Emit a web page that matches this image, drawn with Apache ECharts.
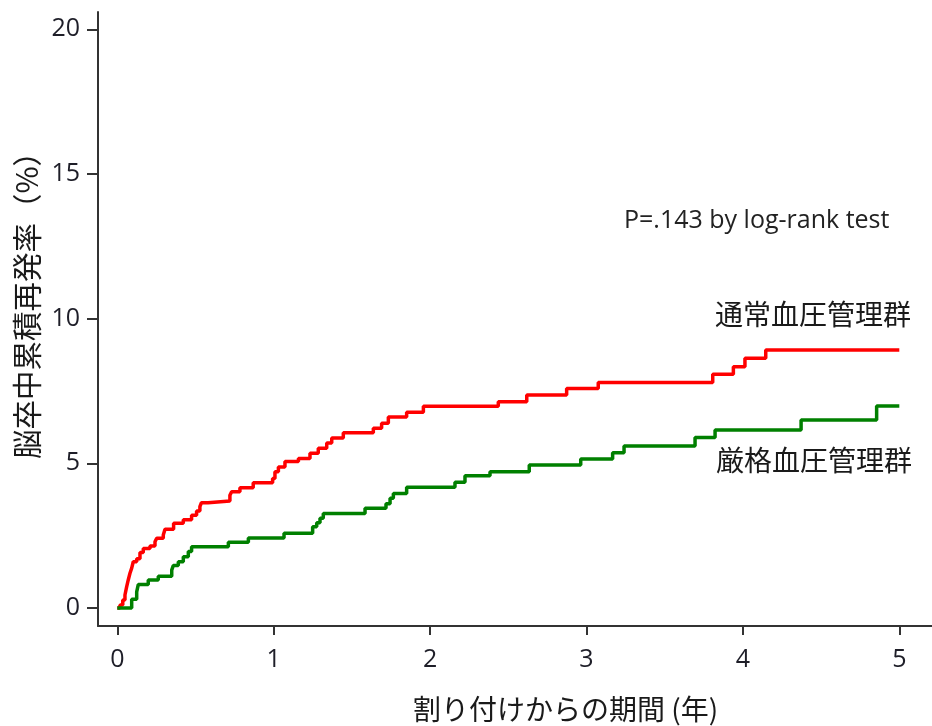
<!DOCTYPE html>
<html>
<head>
<meta charset="utf-8">
<script src="https://cdn.jsdelivr.net/npm/echarts@6/dist/echarts.min.js"></script>
<style>
html,body{margin:0;padding:0;background:#fff;}
#chart{width:932px;height:726px;}
</style>
</head>
<body>
<div id="chart"></div>
<script>
// Kaplan-Meier style cumulative incidence (%), [year, value] where value starts at year
const standardGroupName = '通常血圧管理群';
const strictGroupName = '厳格血圧管理群';
const standardCurve = [
  [0, 0], [0.017, 0.1], [0.035, 0.28], [0.049, 0.45], [0.06, 0.74], [0.07, 0.97],
  [0.081, 1.2], [0.092, 1.38], [0.102, 1.6], [0.124, 1.7], [0.145, 1.92], [0.166, 2.06],
  [0.209, 2.14], [0.241, 2.29], [0.252, 2.41], [0.294, 2.52], [0.305, 2.72], [0.36, 2.93],
  [0.422, 3.05], [0.475, 3.21], [0.507, 3.35], [0.528, 3.5], [0.538, 3.64], [0.58, 3.7],
  [0.72, 3.9], [0.731, 4.02], [0.784, 4.16], [0.869, 4.33], [0.993, 4.48], [1.008, 4.71],
  [1.03, 4.87], [1.072, 5.06], [1.158, 5.17], [1.232, 5.35], [1.285, 5.52], [1.339, 5.7],
  [1.371, 5.88], [1.445, 6.06], [1.637, 6.21], [1.69, 6.39], [1.733, 6.6], [1.85, 6.77],
  [1.957, 6.97], [2.436, 7.13], [2.618, 7.36], [2.873, 7.59], [3.075, 7.79], [3.807, 8.08],
  [3.939, 8.34], [4.013, 8.63], [4.146, 8.92], [5.0, 8.92]
];
const strictCurve = [
  [0, 0], [0.092, 0.3], [0.124, 0.56], [0.134, 0.81], [0.198, 0.97], [0.262, 1.1],
  [0.348, 1.31], [0.358, 1.47], [0.39, 1.6], [0.422, 1.77], [0.454, 1.95], [0.475, 2.12],
  [0.71, 2.27], [0.838, 2.42], [1.066, 2.58], [1.249, 2.81], [1.275, 2.95], [1.296, 3.1],
  [1.317, 3.27], [1.584, 3.45], [1.718, 3.6], [1.744, 3.79], [1.765, 3.96], [1.85, 4.17],
  [2.159, 4.35], [2.223, 4.57], [2.383, 4.71], [2.634, 4.94], [2.963, 5.15], [3.167, 5.37],
  [3.24, 5.6], [3.694, 5.89], [3.822, 6.15], [4.372, 6.5], [4.855, 6.98], [5.0, 6.98]
];
const xTicks = [0, 1, 2, 3, 4, 5];
const yTicks = [0, 5, 10, 15, 20];
const xTitle = '割り付けからの期間 (年)';
const yTitle = '脳卒中累積再発率（%）';
const pText = 'P=.143 by log-rank test';

const cjk = '"Noto Sans CJK JP", "Noto Sans", sans-serif';
const latin = '"Open Sans", "Noto Sans", sans-serif';
const chart = echarts.init(document.getElementById('chart'), null, {renderer: 'canvas'});
const axisColor = '#333';
chart.setOption({
  animation: false,
  backgroundColor: '#fff',
  grid: {left: 98, right: 0, top: 12, bottom: 100},
  xAxis: {
    type: 'value', min: -0.1234, max: 5.209,
    axisLine: {show: true, onZero: false, lineStyle: {color: axisColor, width: 2}},
    axisTick: {show: true, length: 9, customValues: xTicks, lineStyle: {color: axisColor, width: 2}},
    axisLabel: {customValues: xTicks, fontSize: 25, color: '#1e1e28', fontFamily: latin, margin: 21},
    splitLine: {show: false}
  },
  yAxis: {
    type: 'value', min: -0.622, max: 20.6,
    axisLine: {show: true, onZero: false, lineStyle: {color: axisColor, width: 2}},
    axisTick: {show: true, length: 11, customValues: yTicks, lineStyle: {color: axisColor, width: 2}},
    axisLabel: {customValues: yTicks, fontSize: 25, color: '#1e1e28', fontFamily: latin, margin: 18},
    splitLine: {show: false}
  },
  series: [
    {
      name: standardGroupName, type: 'line', step: 'end', data: standardCurve,
      showSymbol: false, lineStyle: {color: '#ff0000', width: 3.5}, itemStyle: {color: '#ff0000'}
    },
    {
      name: strictGroupName, type: 'line', step: 'end', data: strictCurve,
      showSymbol: false, lineStyle: {color: '#008000', width: 3.5}, itemStyle: {color: '#008000'}
    }
  ],
  graphic: [
    {type: 'text', left: 624, top: 208, style: {text: pText, fontSize: 25, fill: '#222', fontFamily: latin}},
    {type: 'text', right: 21, top: 300, style: {text: standardGroupName, fontSize: 28, fill: '#1a1a1a', fontFamily: cjk}},
    {type: 'text', right: 20, top: 446, style: {text: strictGroupName, fontSize: 28, fill: '#1a1a1a', fontFamily: cjk}},
    {type: 'text', left: 413, top: 695, style: {text: xTitle, fontSize: 28, fill: '#1a1a1a', fontFamily: cjk}},
    {type: 'text', x: 27, y: 298, rotation: Math.PI / 2,
      style: {text: yTitle, fontSize: 29.5, fill: '#1a1a1a', fontFamily: cjk, align: 'center', verticalAlign: 'middle'}}
  ]
});
</script>
</body>
</html>
